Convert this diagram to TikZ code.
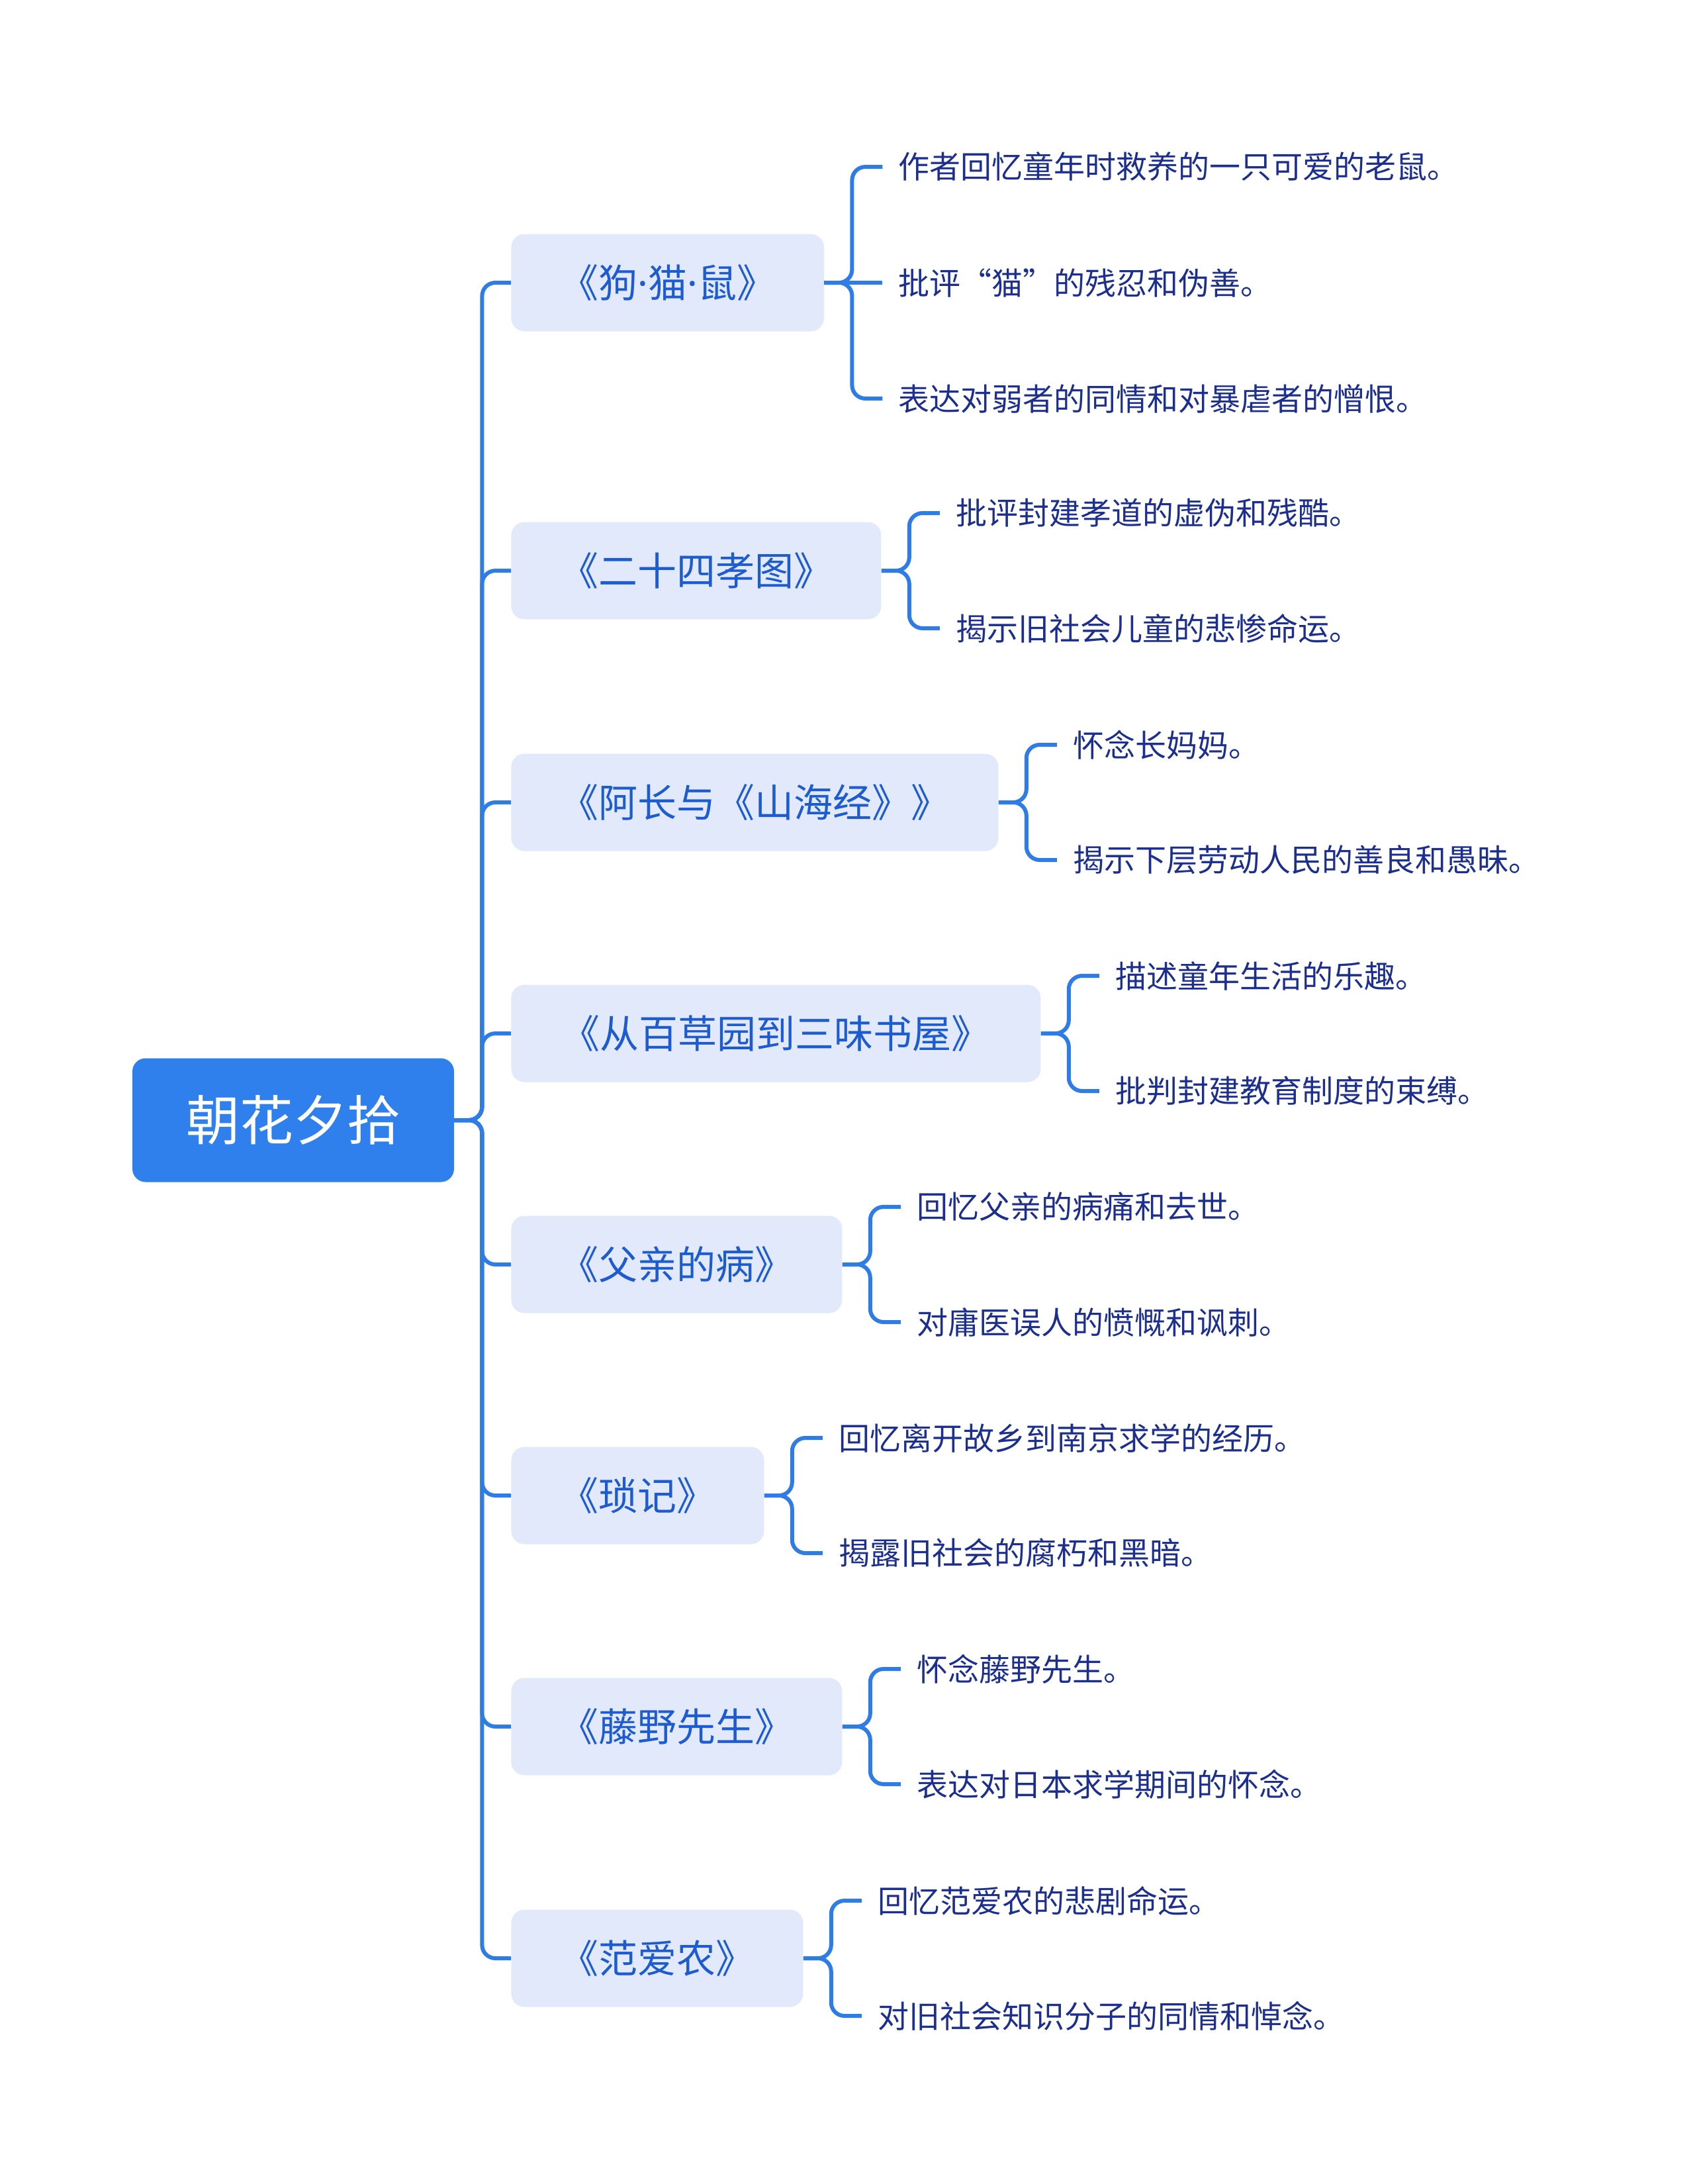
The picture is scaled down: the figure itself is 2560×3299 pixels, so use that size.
\documentclass[tikz,border=0pt]{standalone}
\usepackage{fontspec}
\usetikzlibrary{positioning}
\newfontfamily\cjk{Noto Sans CJK SC}
\newfontfamily\latinfont{Noto Sans}
\newcommand{\mdot}{{\latinfont ·}}
\definecolor{lineblue}{HTML}{2E7CE6}
\definecolor{rootblue}{HTML}{2F80ED}
\definecolor{boxfill}{HTML}{E1E9FB}
\definecolor{boxtext}{HTML}{1D5BD0}
\definecolor{leaftext}{HTML}{1C2F8F}

\begin{document}
\begin{tikzpicture}[
  x=0.5pt, y=-0.5pt,
  root/.style={fill=rootblue, rounded corners=10pt, text=white, font=\cjk\fontsize{40.5}{48}\selectfont, minimum width=243pt, minimum height=93.5pt},
  topic/.style={fill=boxfill, rounded corners=10pt, text=boxtext, font=\cjk\fontsize{29.5}{35}\selectfont, minimum height=73.5pt, inner xsep=36.5pt, anchor=west},
  leaf/.style={text=leaftext, font=\cjk\fontsize{23.5}{28}\selectfont, inner xsep=12pt, inner ysep=2pt},
  link/.style={draw=lineblue, line width=3pt, rounded corners=10pt}
]
\useasboundingbox (0,0) rectangle (2560,3299);
\node[root] (root) at (443,1692) {朝花夕拾};
\node[topic] (gmm) at (772,427) {《狗\mdot 猫\mdot 鼠》};
\node[topic] (xiao) at (772,862) {《二十四孝图》};
\node[topic] (ach) at (772,1212) {《阿长与《山海经》》};
\node[topic, minimum width=400pt] (bcy) at (772,1561) {《从百草园到三味书屋》};
\node[topic] (fq) at (772,1910) {《父亲的病》};
\node[topic] (sj) at (772,2259) {《琐记》};
\node[topic] (ty) at (772,2608) {《藤野先生》};
\node[topic] (fan) at (772,2958) {《范爱农》};
% leaves
\node[leaf, right=44pt of gmm, anchor=west, yshift=87.5pt] (gmm1) {作者回忆童年时救养的一只可爱的老鼠。};
\node[leaf, right=44pt of gmm, anchor=west] (gmm2) {批评“猫”的残忍和伪善。};
\node[leaf, right=44pt of gmm, anchor=west, yshift=-87.5pt] (gmm3) {表达对弱者的同情和对暴虐者的憎恨。};
\node[leaf, right=44pt of xiao, anchor=west, yshift=43.5pt] (xiao1) {批评封建孝道的虚伪和残酷。};
\node[leaf, right=44pt of xiao, anchor=west, yshift=-43.5pt] (xiao2) {揭示旧社会儿童的悲惨命运。};
\node[leaf, right=44pt of ach, anchor=west, yshift=43.5pt] (ach1) {怀念长妈妈。};
\node[leaf, right=44pt of ach, anchor=west, yshift=-43.5pt] (ach2) {揭示下层劳动人民的善良和愚昧。};
\node[leaf, right=44pt of bcy, anchor=west, yshift=43.5pt] (bcy1) {描述童年生活的乐趣。};
\node[leaf, right=44pt of bcy, anchor=west, yshift=-43.5pt] (bcy2) {批判封建教育制度的束缚。};
\node[leaf, right=44pt of fq, anchor=west, yshift=43.5pt] (fq1) {回忆父亲的病痛和去世。};
\node[leaf, right=44pt of fq, anchor=west, yshift=-43.5pt] (fq2) {对庸医误人的愤慨和讽刺。};
\node[leaf, right=44pt of sj, anchor=west, yshift=43.5pt] (sj1) {回忆离开故乡到南京求学的经历。};
\node[leaf, right=44pt of sj, anchor=west, yshift=-43.5pt] (sj2) {揭露旧社会的腐朽和黑暗。};
\node[leaf, right=44pt of ty, anchor=west, yshift=43.5pt] (ty1) {怀念藤野先生。};
\node[leaf, right=44pt of ty, anchor=west, yshift=-43.5pt] (ty2) {表达对日本求学期间的怀念。};
\node[leaf, right=44pt of fan, anchor=west, yshift=43.5pt] (fan1) {回忆范爱农的悲剧命运。};
\node[leaf, right=44pt of fan, anchor=west, yshift=-43.5pt] (fan2) {对旧社会知识分子的同情和悼念。};
% trunk
\foreach \t in {gmm,xiao,ach,bcy,fq,sj,ty,fan}
  \draw[link] (root.east) -- ++(42,0) |- (\t.west);
% brackets
\draw[link] (gmm.east) -- ++(42,0) |- (gmm1.west);
\draw[link] (gmm.east) -- (gmm2.west);
\draw[link] (gmm.east) -- ++(42,0) |- (gmm3.west);
\foreach \t in {xiao,ach,bcy,fq,sj,ty,fan} {
  \draw[link] (\t.east) -- ++(42,0) |- (\t1.west);
  \draw[link] (\t.east) -- ++(42,0) |- (\t2.west);
}
\end{tikzpicture}
\end{document}
